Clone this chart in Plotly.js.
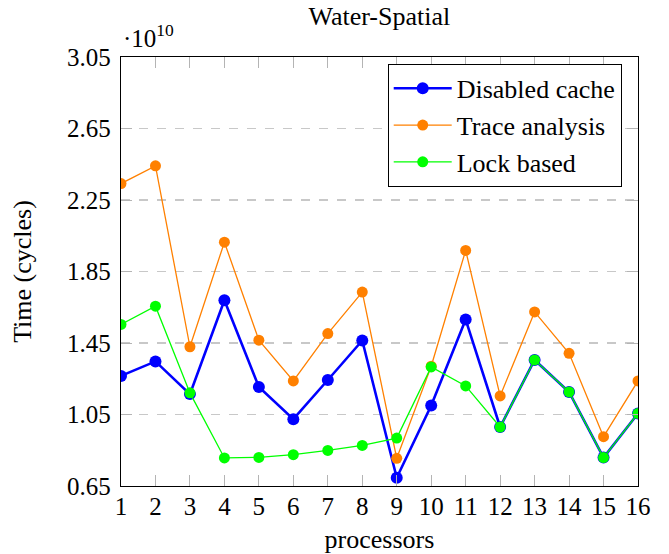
<!DOCTYPE html>
<html>
<head>
<meta charset="utf-8">
<script src="https://cdn.plot.ly/plotly-3.0.1.min.js"></script>
<style>html,body{margin:0;padding:0;background:#fff;}#chart{width:669px;height:554px;}</style>
</head>
<body>
<div id="chart"></div>
<script>
const processors = [1,2,3,4,5,6,7,8,9,10,11,12,13,14,15,16];
const disabledCache = [1.266,1.347,1.164,1.689,1.204,1.024,1.243,1.464,0.696,1.100,1.581,0.980,1.355,1.176,0.809,1.056];
const traceAnalysis = [2.342,2.441,1.429,2.014,1.466,1.238,1.503,1.735,0.805,1.320,1.968,1.154,1.624,1.392,0.926,1.238];
const lockBased = [1.554,1.656,1.171,0.807,0.810,0.825,0.849,0.877,0.918,1.316,1.210,0.980,1.355,1.176,0.809,1.056];
const yTicks = [0.65,1.05,1.45,1.85,2.25,2.65,3.05];
const yTickText = yTicks.map(v => v.toFixed(2));
const seriesNames = ['Disabled cache','Trace analysis','Lock based'];

const FONT = 'Liberation Serif, Times New Roman, serif';
const traces = [
  {x: processors, y: disabledCache, name: seriesNames[0], type: 'scatter', mode: 'lines+markers',
   line: {color: '#0000ff', width: 2.6}, marker: {color: '#0000ff', size: 12}},
  {x: processors, y: traceAnalysis, name: seriesNames[1], type: 'scatter', mode: 'lines+markers',
   line: {color: '#ff8000', width: 1.3}, marker: {color: '#ff8000', size: 11}},
  {x: processors, y: lockBased, name: seriesNames[2], type: 'scatter', mode: 'lines+markers',
   line: {color: '#00ff00', width: 1.3}, marker: {color: '#00ff00', size: 11}}
];

const layout = {
  width: 669, height: 554,
  margin: {l: 121, r: 31, t: 57, b: 68},
  paper_bgcolor: '#ffffff', plot_bgcolor: '#ffffff',
  font: {family: FONT, color: '#000', size: 25},
  title: {text: 'Water-Spatial', font: {family: FONT, size: 26, color: '#000'},
          x: 0.567, xanchor: 'center', y: 0.972, yanchor: 'middle'},
  showlegend: true,
  legend: {x: 0.9685, xanchor: 'right', y: 0.984, yanchor: 'top',
           bgcolor: '#ffffff', bordercolor: '#000', borderwidth: 1,
           font: {family: FONT, size: 26, color: '#000'}, itemwidth: 58, tracegroupgap: 0},
  xaxis: {
    range: [1, 16], tickvals: processors, ticktext: processors.map(String),
    showline: true, linecolor: '#000', linewidth: 1.3, mirror: 'ticks',
    ticks: 'inside', ticklen: 11, tickcolor: '#b4b4b4', tickwidth: 1,
    showgrid: false, zeroline: false, ticklabelstandoff: -2,
    tickfont: {family: FONT, size: 25, color: '#000'},
    title: {text: 'processors', font: {family: FONT, size: 26, color: '#000'}, standoff: 18},
    automargin: false
  },
  yaxis: {
    range: [0.65, 3.05], tickvals: yTicks, ticktext: yTickText,
    showline: true, linecolor: '#000', linewidth: 1.3, mirror: 'ticks',
    ticks: 'inside', ticklen: 11, tickcolor: '#b4b4b4', tickwidth: 1,
    showgrid: true, gridcolor: '#c8c8c8', gridwidth: 1.3, griddash: 'dash',
    zeroline: false, ticklabelstandoff: 4,
    tickfont: {family: FONT, size: 25, color: '#000'},
    title: {text: 'Time (cycles)', font: {family: FONT, size: 26, color: '#000'}, standoff: 28},
    automargin: false
  },
  annotations: [{
    text: '·10<sup>10</sup>', xref: 'paper', yref: 'paper', x: 0, y: 1,
    xanchor: 'left', yanchor: 'bottom', yshift: 3, xshift: 0, showarrow: false,
    font: {family: FONT, size: 25, color: '#000'}
  }]
};

Plotly.newPlot('chart', traces, layout, {displayModeBar: false, staticPlot: true});
</script>
</body>
</html>
